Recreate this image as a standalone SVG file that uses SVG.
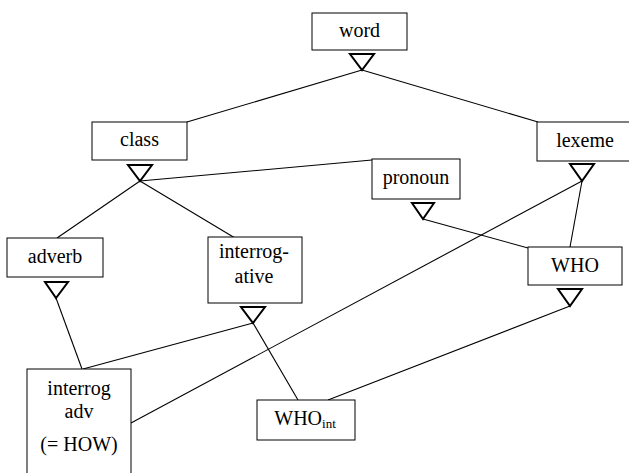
<svg xmlns="http://www.w3.org/2000/svg" width="629" height="473" viewBox="0 0 629 473">
<style>
.box{fill:#fff;stroke:#000;stroke-width:1}
.tri{fill:#fff;stroke:#000;stroke-width:2;stroke-linejoin:miter}
.ln{stroke:#000;stroke-width:1.1;fill:none}
</style>
<rect width="629" height="473" fill="#fff"/>
<g id="connectors">
<line class="ln" x1="362" y1="70" x2="187" y2="122"/>
<line class="ln" x1="362" y1="70" x2="538" y2="122"/>
<line class="ln" x1="140" y1="181" x2="372" y2="160"/>
<line class="ln" x1="140" y1="181" x2="57" y2="238"/>
<line class="ln" x1="140" y1="181" x2="235" y2="238"/>
<line class="ln" x1="582" y1="181" x2="570" y2="247"/>
<line class="ln" x1="582" y1="181" x2="131" y2="423"/>
<line class="ln" x1="423" y1="219" x2="528" y2="248"/>
<line class="ln" x1="56" y1="298" x2="82" y2="369"/>
<line class="ln" x1="253" y1="323" x2="83" y2="369"/>
<line class="ln" x1="253" y1="323" x2="298" y2="400"/>
<line class="ln" x1="570" y1="306" x2="328" y2="400"/>
</g>
<g id="word">
<rect class="box" x="312" y="13" width="95" height="37"/>
<text x="359.5" y="37" font-family="Liberation Serif" font-size="20" text-anchor="middle">word</text>
<polygon class="tri" points="350,54 374,54 362,70"/>
</g>
<g id="class">
<rect class="box" x="92" y="122" width="95" height="38"/>
<text x="139.5" y="146" font-family="Liberation Serif" font-size="20" text-anchor="middle">class</text>
<polygon class="tri" points="128,165 152,165 140,181"/>
</g>
<g id="pronoun">
<rect class="box" x="372" y="159" width="88" height="40"/>
<text x="416" y="184" font-family="Liberation Serif" font-size="20" text-anchor="middle">pronoun</text>
<polygon class="tri" points="412,203 434,203 423,219"/>
</g>
<g id="lexeme">
<rect class="box" x="537" y="122" width="96" height="39"/>
<text x="585" y="147" font-family="Liberation Serif" font-size="20" text-anchor="middle">lexeme</text>
<polygon class="tri" points="570,164 594,164 582,181"/>
</g>
<g id="adverb">
<rect class="box" x="7" y="238" width="96" height="39"/>
<text x="55" y="263" font-family="Liberation Serif" font-size="20" text-anchor="middle">adverb</text>
<polygon class="tri" points="45,282 68,282 56,298"/>
</g>
<g id="interrogative">
<rect class="box" x="208" y="237" width="94" height="66"/>
<text x="254" y="258" font-family="Liberation Serif" font-size="20" text-anchor="middle">interrog-</text>
<text x="254" y="283" font-family="Liberation Serif" font-size="20" text-anchor="middle">ative</text>
<polygon class="tri" points="241,307 265,307 253,323"/>
</g>
<g id="WHO">
<rect class="box" x="528" y="247" width="94" height="38"/>
<text x="575" y="272" font-family="Liberation Serif" font-size="20" text-anchor="middle">WHO</text>
<polygon class="tri" points="558,289 582,289 570,306"/>
</g>
<g id="interrog-adv">
<rect class="box" x="27" y="369" width="104" height="115"/>
<text x="79" y="395" font-family="Liberation Serif" font-size="20" text-anchor="middle">interrog</text>
<text x="79" y="418" font-family="Liberation Serif" font-size="20" text-anchor="middle">adv</text>
<text x="79" y="451" font-family="Liberation Serif" font-size="20" text-anchor="middle">(= HOW)</text>
</g>
<g id="WHO-int">
<rect class="box" x="257" y="400" width="98" height="40"/>
<text x="305" y="425" font-family="Liberation Serif" font-size="20" text-anchor="middle">WHO<tspan font-size="13" dy="3">int</tspan></text>
</g>
</svg>
